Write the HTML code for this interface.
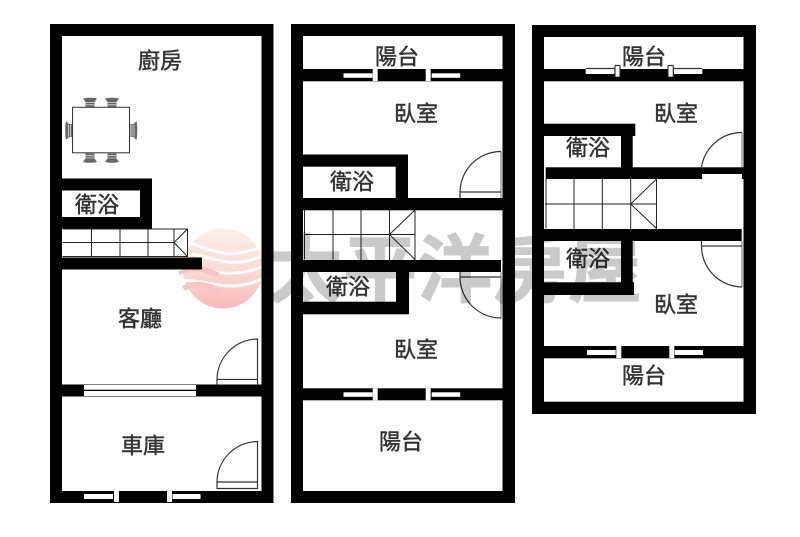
<!DOCTYPE html>
<html><head><meta charset="utf-8"><style>
html,body{margin:0;padding:0;background:#fff;width:800px;height:537px;overflow:hidden}
svg{display:block}
.l{font-family:"Liberation Sans","Noto Sans CJK TC",sans-serif;font-size:22px;fill:#333;stroke:#333;stroke-width:.45;text-anchor:middle;dominant-baseline:central;font-weight:400}
.wm{font-family:"Liberation Sans","Noto Sans CJK TC",sans-serif;font-size:74px;font-weight:700;fill:#cacaca;letter-spacing:1px}
.t{fill:none;stroke:#222;stroke-width:1}
.d{fill:none;stroke:#333;stroke-width:1.2}
.g{fill:none;stroke:#888;stroke-width:1.2}
</style></head><body>
<svg width="800" height="537" viewBox="0 0 800 537" xmlns="http://www.w3.org/2000/svg">
<defs>
<linearGradient id="lg" x1="0" y1="0" x2="0" y2="1"><stop offset="0" stop-color="#fdf0ea"/><stop offset=".5" stop-color="#fbdcd4"/><stop offset="1" stop-color="#f8b8b8"/></linearGradient>
<clipPath id="cc"><circle cx="223" cy="268.500" r="40"/></clipPath>
<g id="ch"><path d="M0 0C4 -1 10 -1 14 0L11.500 3.500V8.500H2.500V3.500Z" fill="#666"/><path d="M2.500 4h9M3 6.300h8" stroke="#ddd" stroke-width=".8"/></g>
<g id="cs"><path d="M0.500 0C-.5 5 -.5 14 .5 19L3.500 16H6.500V3H3.500Z" fill="#666"/><path d="M3 3.500v12M5 3.500v12" stroke="#ddd" stroke-width=".8"/></g>
</defs>
<rect width="800" height="537" fill="#fff"/>

<!-- plan 1 -->
<rect x="50" y="24" width="223.500" height="479" fill="#000"/>
<rect x="62" y="36" width="199.500" height="455" fill="#fff"/>
<rect x="50" y="178.500" width="102" height="50" fill="#000"/>
<rect x="62" y="190.500" width="78" height="26.500" fill="#fff"/>
<rect x="50" y="257.500" width="152" height="12" fill="#000"/>
<rect x="50" y="384.500" width="223" height="12" fill="#000"/>
<g class="t"><path d="M62.500 229H187.500V256.500H62.500M62.500 242.500H174M91.500 229V257M120 229V257M148 229V257M174 229V257M174 242.500L187.500 229M174 242.500L187.500 256.500"/></g>
<rect x="84" y="385" width="112" height="4.700" fill="#fff"/><rect x="84" y="391" width="112" height="5" fill="#fff"/>
<path class="d" d="M217 379.500A41 41 0 0 1 257.500 339V385M217 379.500H257.500M217 379.500V385"/>
<rect x="217.500" y="380" width="39.500" height="4.500" fill="#fff"/>
<path class="d" d="M217 482A41 41 0 0 1 257.500 441.500V488.500H217V482H257.500"/>
<rect x="84" y="494" width="29" height="5" fill="#fff"/><rect x="114" y="491" width="5" height="11" fill="#fff"/>
<rect x="167" y="491" width="5" height="11" fill="#fff"/><rect x="172.500" y="494" width="28" height="5" fill="#fff"/>
<!-- table -->
<rect x="72.500" y="107.300" width="57" height="45.500" fill="#fff" stroke="#333" stroke-width="1"/>
<use href="#ch" transform="translate(83,98.500)"/><use href="#ch" transform="translate(105,98.500)"/>
<use href="#ch" transform="translate(83,162) scale(1,-1)"/><use href="#ch" transform="translate(105,162) scale(1,-1)"/>
<use href="#cs" transform="translate(65.500,121)"/><use href="#cs" transform="translate(137,121) scale(-1,1)"/>

<!-- plan 2 -->
<rect x="291" y="24" width="224" height="479" fill="#000"/>
<rect x="303" y="36" width="199.500" height="455" fill="#fff"/>
<rect x="291" y="69" width="224" height="12.300" fill="#000"/>
<rect x="291" y="154.500" width="117" height="50" fill="#000"/>
<rect x="303" y="166.700" width="92.700" height="31.300" fill="#fff"/>
<rect x="291" y="198" width="224" height="12.300" fill="#000"/>
<rect x="291" y="260" width="210" height="12" fill="#000"/>
<rect x="291" y="272" width="118" height="42.300" fill="#000"/>
<rect x="303" y="272" width="93" height="29.700" fill="#fff"/>
<rect x="291" y="388.300" width="224" height="12" fill="#000"/>
<g class="t"><path d="M304.500 210V259.500M304 234.500H415M333 210V260M361 210V260M389.500 210V260M415 210V260M389.500 234.500L415 210M389.500 234.500L415 259.500"/></g>
<path class="g" d="M501 151.500V198"/><path class="d" d="M460 192A41 41 0 0 1 501 151.500M460 192H501M460 192V198"/>
<path class="g" d="M501 272V318"/><path class="d" d="M460 277A41 41 0 0 0 501 318M460 277H501M460 272V277"/>
<rect x="343.500" y="73.300" width="29" height="4.500" fill="#fff"/><rect x="372.700" y="69" width="5" height="12" fill="#fff"/>
<rect x="425.700" y="69" width="5" height="12" fill="#fff"/><rect x="431.700" y="73.300" width="28.500" height="4.500" fill="#fff"/>
<rect x="343.500" y="392.300" width="29" height="4.500" fill="#fff"/><rect x="372.700" y="388.300" width="5" height="12" fill="#fff"/>
<rect x="425.700" y="388.300" width="5" height="12" fill="#fff"/><rect x="431.700" y="392.300" width="28.500" height="4.500" fill="#fff"/>

<!-- plan 3 -->
<rect x="532" y="25" width="224" height="389" fill="#000"/>
<rect x="544" y="37" width="199.500" height="364.700" fill="#fff"/>
<rect x="532" y="69" width="224" height="12.300" fill="#000"/>
<rect x="532" y="123.700" width="103.300" height="12.300" fill="#000"/>
<rect x="621" y="136" width="11.700" height="32" fill="#000"/>
<rect x="545.700" y="167.300" width="210" height="11.700" fill="#000"/>
<rect x="532" y="229" width="209.700" height="12" fill="#000"/>
<rect x="621" y="241" width="11.700" height="42" fill="#000"/>
<rect x="532" y="282.300" width="102" height="12.700" fill="#000"/>
<rect x="532" y="346" width="224" height="12.300" fill="#000"/>
<g class="t"><path d="M546 179V228.500M545 204H656.500M574 179V229M602.300 179V229M630.700 179V229M656.500 179V229M630.700 204L656.500 179M630.700 204L656.500 228.500"/></g>
<rect x="585.700" y="69" width="28.700" height="5" fill="#fff"/><rect x="615" y="65.700" width="5" height="11" fill="#fff"/>
<rect x="668" y="65.700" width="5.300" height="11" fill="#fff"/><rect x="674" y="69" width="28.300" height="5" fill="#fff"/>
<path class="d" d="M585.700 68.500H614.500M674 68.500H702.300M615 65.500H620M668 65.500H673.300M615 65.500V77M620 65.500V77M668 65.500V77M673.300 65.500V77"/>
<rect x="587" y="350" width="28.700" height="5" fill="#fff"/><rect x="616.300" y="346" width="5" height="12" fill="#fff"/>
<rect x="669.300" y="346" width="5" height="12" fill="#fff"/><rect x="674.700" y="350" width="28.300" height="5" fill="#fff"/>
<path class="g" d="M742 132.500V167.500"/><path class="d" d="M701.500 167A41 41 0 0 1 742 132.500"/>
<rect x="702" y="174" width="40" height="5" fill="#fff"/>
<path class="g" d="M742 241V287"/><path class="d" d="M701.500 246A41 41 0 0 0 742 287M701.500 246H742M701.500 241V246"/>

<!-- labels -->
<text class="l" x="160" y="61">廚房</text>
<text class="l" x="97" y="205">衛浴</text>
<text class="l" x="140" y="319">客廳</text>
<text class="l" x="143" y="446">車庫</text>
<text class="l" x="397" y="57">陽台</text>
<text class="l" x="416" y="114">臥室</text>
<text class="l" x="352" y="182">衛浴</text>
<text class="l" x="348" y="287">衛浴</text>
<text class="l" x="416" y="350">臥室</text>
<text class="l" x="401" y="442">陽台</text>
<text class="l" x="644" y="57">陽台</text>
<text class="l" x="676" y="114">臥室</text>
<text class="l" x="588" y="148">衛浴</text>
<text class="l" x="588" y="259">衛浴</text>
<text class="l" x="676" y="305">臥室</text>
<text class="l" x="644" y="376">陽台</text>

<!-- watermark -->
<g style="mix-blend-mode:multiply">
<g clip-path="url(#cc)">
<rect x="178" y="228" width="86" height="82" fill="url(#lg)"/>
<path d="M186 243C205 245 222 262 258 248M182 255C205 250 225 273 262 256M178 268C200 262 222 284 264 266M178 282C200 275 225 297 264 278" fill="none" stroke="#fff" stroke-width="3"/>
</g>
<path d="M178 272C190 263 205 265 220 273L215 277C203 271 190 269 180 275zM182 286C194 279 207 281 222 289L217 293C205 287 194 285 185 291z" fill="#f8c4c4"/>
<text class="wm" x="268" y="296" stroke="#cacaca" stroke-width="1">太平洋房屋</text>
</g>
</svg>
</body></html>
